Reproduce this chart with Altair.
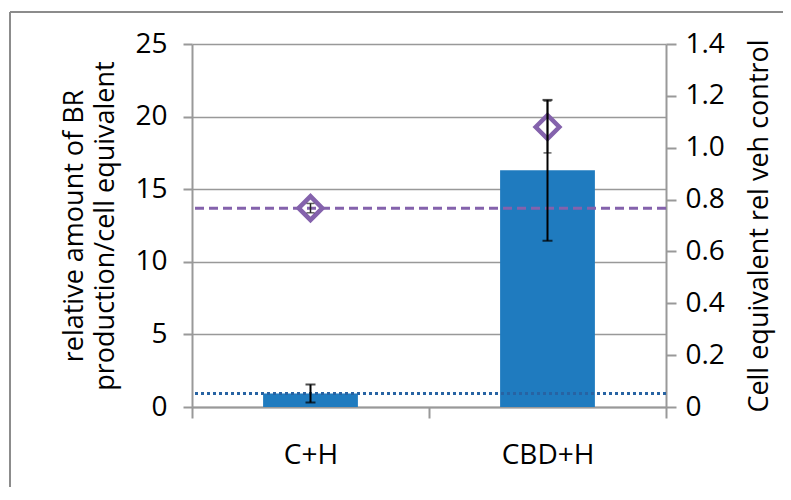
import altair as alt
import pandas as pd

categories = ["C+H", "CBD+H"]
br_values = [0.93, 16.3]
br_errors = [0.62, 4.85]
cell_values = [0.767, 1.08]
cell_errors = [0.018, 0.1]
left_ticks = [0, 5, 10, 15, 20, 25]
right_ticks = [0, 0.2, 0.4, 0.6, 0.8, 1.0, 1.2, 1.4]
left_title = ["relative amount of BR", "production/cell equivalent"]
right_title = "Cell equivalent rel veh control"

df = pd.DataFrame({
    "cat": categories,
    "br": br_values,
    "br_lo": [v - e for v, e in zip(br_values, br_errors)],
    "br_hi": [v + e for v, e in zip(br_values, br_errors)],
    "cell": cell_values,
    "cell_lo": [v - e for v, e in zip(cell_values, cell_errors)],
    "cell_hi": [v + e for v, e in zip(cell_values, cell_errors)],
})

GRAY = "#999999"
BLUE = "#1f7bbf"
PURPLE = "#8462ac"
DOT = "#2763a3"
FONT = "Open Sans"
W, H = 474, 363

xenc = alt.X("cat:N", sort=categories,
             scale=alt.Scale(paddingInner=0, paddingOuter=0),
             axis=alt.Axis(title=None, labelAngle=0, tickBand="extent", tickSize=11,
                           tickColor=GRAY, domainColor=GRAY, domainWidth=2, tickWidth=2,
                           labelFontSize=28, labelPadding=23, grid=False))

left_axis = alt.Axis(values=left_ticks, title=left_title, grid=True, gridColor=GRAY,
                     gridWidth=1.5, tickSize=9, tickColor=GRAY, tickWidth=2,
                     domainColor=GRAY, domainWidth=2, labelFontSize=28, labelPadding=16,
                     titleFontSize=27, titleLineHeight=31, titlePadding=15)
right_axis = alt.Axis(orient="right", values=right_ticks, title=right_title, grid=False,
                      tickSize=10, tickColor=GRAY, tickWidth=2, domainColor=GRAY,
                      domainWidth=2, labelFontSize=28, labelPadding=9,
                      labelExpr="datum.value == 0 ? '0' : format(datum.value, '.1f')",
                      titleFontSize=27, titlePadding=22, titleAngle=270,
                      titleBaseline="top")

lscale = alt.Scale(domain=[0, 25], nice=False)
rscale = alt.Scale(domain=[0, 1.4], nice=False)

def yl(field):
    return alt.Y(field, type="quantitative", scale=lscale, axis=left_axis)

def yr(field):
    return alt.Y(field, type="quantitative", scale=rscale, axis=right_axis)

base = alt.Chart(df)

bars = base.mark_bar(color=BLUE, width=alt.RelativeBandSize(0.4)).encode(x=xenc, y=yl("br"))
dotted = base.transform_filter(alt.datum.cat == categories[0]).mark_rule(
    color=DOT, strokeWidth=3, strokeDash=[3, 3]).encode(y=yl("br"))
left_group = alt.layer(bars, dotted)

dashed = base.transform_filter(alt.datum.cat == categories[0]).mark_rule(
    color=PURPLE, strokeWidth=3, strokeDash=[9, 5]).encode(y=yr("cell"))
diamonds = base.mark_point(shape="diamond", size=560, strokeWidth=4.5, color=PURPLE,
                           filled=False, opacity=1).encode(x=xenc, y=yr("cell"))
cerr = base.mark_rule(color="#222222", strokeWidth=1.5).encode(
    x=xenc, y=yr("cell_lo"), y2="cell_hi")
ccap1 = base.mark_tick(color="#222222", thickness=1.5, size=8).encode(x=xenc, y=yr("cell_lo"))
ccap2 = base.mark_tick(color="#222222", thickness=1.5, size=8).encode(x=xenc, y=yr("cell_hi"))
right_group = alt.layer(dashed, diamonds, cerr, ccap1, ccap2)

ynone = lambda f: alt.Y(f, type="quantitative", scale=lscale, axis=None)
berr = base.mark_rule(color="black", strokeWidth=2).encode(x=xenc, y=ynone("br_lo"), y2="br_hi")
bcap1 = base.mark_tick(color="black", thickness=2, size=10).encode(x=xenc, y=ynone("br_lo"))
bcap2 = base.mark_tick(color="black", thickness=2, size=10).encode(x=xenc, y=ynone("br_hi"))

frame_left = base.mark_rule(color="#8c8c8c", strokeWidth=2).encode(
    x=alt.value(-182), y=alt.value(-32), y2=alt.value(470))
frame_top = base.mark_rule(color="#8c8c8c", strokeWidth=2).encode(
    x=alt.value(-182), x2=alt.value(600), y=alt.value(-32))
err_group = alt.layer(berr, bcap1, bcap2, frame_left, frame_top)

chart = alt.layer(left_group, right_group, err_group).resolve_scale(
    y="independent").properties(
    width=W, height=H,
    autosize=alt.AutoSizeParams(type="none"),
    padding={"left": 184, "top": 36, "right": 117, "bottom": 80},
    background="white",
).configure_view(stroke=None).configure_axis(
    labelFont=FONT, titleFont=FONT, labelColor="black", titleColor="black",
    titleFontWeight="normal")

chart.save("out.html", embed_options={"renderer": "svg", "actions": False})
